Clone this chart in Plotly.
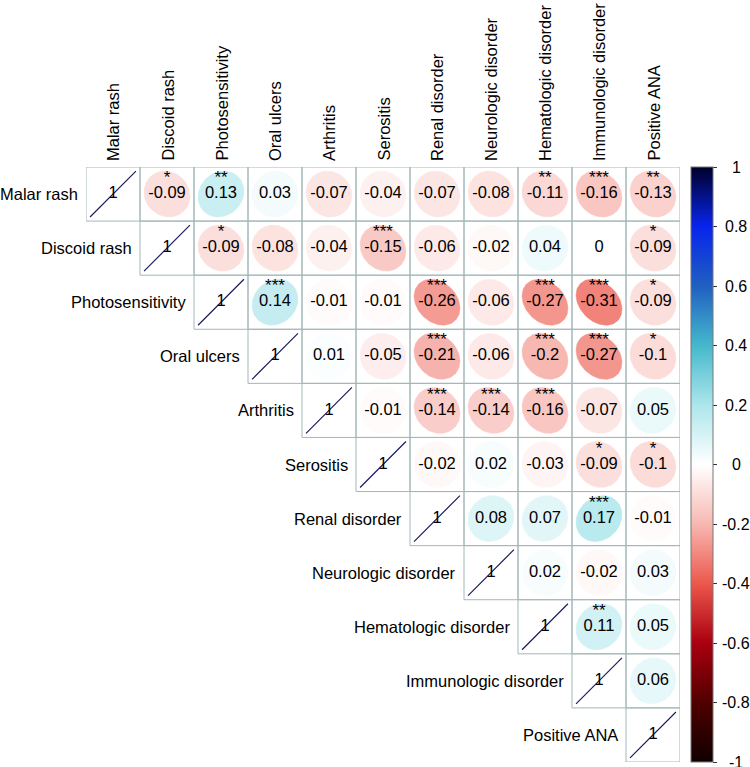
import numpy as np
import plotly.graph_objects as go
from plotly.colors import sample_colorscale

labels = ["Malar rash", "Discoid rash", "Photosensitivity", "Oral ulcers", "Arthritis",
          "Serositis", "Renal disorder", "Neurologic disorder", "Hematologic disorder",
          "Immunologic disorder", "Positive ANA"]

# upper-triangle correlations, row by row (starting at the diagonal)
r_malar = [1, -0.09, 0.13, 0.03, -0.07, -0.04, -0.07, -0.08, -0.11, -0.16, -0.13]
r_discoid = [1, -0.09, -0.08, -0.04, -0.15, -0.06, -0.02, 0.04, 0, -0.09]
r_photo = [1, 0.14, -0.01, -0.01, -0.26, -0.06, -0.27, -0.31, -0.09]
r_oral = [1, 0.01, -0.05, -0.21, -0.06, -0.20, -0.27, -0.10]
r_arth = [1, -0.01, -0.14, -0.14, -0.16, -0.07, 0.05]
r_sero = [1, -0.02, 0.02, -0.03, -0.09, -0.10]
r_renal = [1, 0.08, 0.07, 0.17, -0.01]
r_neuro = [1, 0.02, -0.02, 0.03]
r_hema = [1, 0.11, 0.05]
r_immuno = [1, 0.06]
r_ana = [1]

s_malar = ["", "*", "**", "", "", "", "", "", "**", "***", "**"]
s_discoid = ["", "*", "", "", "***", "", "", "", "", "*"]
s_photo = ["", "***", "", "", "***", "", "***", "***", "*"]
s_oral = ["", "", "", "***", "", "***", "***", "*"]
s_arth = ["", "", "***", "***", "***", "", ""]
s_sero = ["", "", "", "", "*", "*"]
s_renal = ["", "", "", "***", ""]
s_neuro = ["", "", "", ""]
s_hema = ["", "**", ""]
s_immuno = ["", ""]
s_ana = [""]

rows_r = [r_malar, r_discoid, r_photo, r_oral, r_arth, r_sero, r_renal, r_neuro, r_hema, r_immuno, r_ana]
rows_s = [s_malar, s_discoid, s_photo, s_oral, s_arth, s_sero, s_renal, s_neuro, s_hema, s_immuno, s_ana]

cbar_ticks = [-1, -0.8, -0.6, -0.4, -0.2, 0, 0.2, 0.4, 0.6, 0.8, 1]

cscale = [[0.0, 'rgb(16,0,0)'], [0.1, 'rgb(80,0,0)'], [0.2, 'rgb(170,0,16)'],
          [0.3, 'rgb(236,88,76)'], [0.4, 'rgb(247,184,178)'], [0.5, 'rgb(255,255,255)'],
          [0.6, 'rgb(172,230,235)'], [0.7, 'rgb(69,184,204)'], [0.8, 'rgb(32,96,192)'],
          [0.9, 'rgb(8,36,236)'], [1.0, 'rgb(0,0,42)']]

W, H = 750, 767
ML, MR, MT, MB = 86, 70, 167, 5
n = len(labels)
FONT = "Liberation Sans, Arial, sans-serif"
GRID = "#a3b7b7"
FS = 16.5

fig = go.Figure()
shapes = []
annotations = []

k = np.linspace(0, 2 * np.pi, 99)
num_x, num_y, num_t = [], [], []
star_x, star_y, star_t = [], [], []
for i in range(n):
    row = i + 1
    for jj, (r, s) in enumerate(zip(rows_r[i], rows_s[i])):
        col = row + jj
        color = sample_colorscale(cscale, [(r + 1) / 2])[0]
        a = np.arccos(np.clip(r, -1, 1)) / 2
        ex = col + 0.85 * np.cos(k + a) / 2
        ey = row - 0.85 * np.cos(k - a) / 2
        if abs(r) >= 0.999:
            fig.add_trace(go.Scatter(x=ex, y=ey, mode='lines', line=dict(color='#1c1c5c', width=1.2),
                                     hoverinfo='skip', showlegend=False))
        else:
            fig.add_trace(go.Scatter(x=ex, y=ey, mode='lines', fill='toself', fillcolor=color,
                                     line=dict(color=color, width=0.5), hoverinfo='skip', showlegend=False))
        num_x.append(col)
        num_y.append(row)
        num_t.append(f"{r:g}")
        if s:
            star_x.append(col)
            star_y.append(row - 0.28)
            star_t.append(s)
        shapes.append(dict(type='rect', xref='x', yref='y', x0=col - 0.5, x1=col + 0.5,
                           y0=row - 0.5, y1=row + 0.5, line=dict(color=GRID, width=1),
                           layer='above'))

fig.add_trace(go.Scatter(x=num_x, y=num_y, text=num_t, mode='text', textposition='middle center',
                         textfont=dict(family=FONT, size=FS, color='black'),
                         hoverinfo='skip', showlegend=False))
fig.add_trace(go.Scatter(x=star_x, y=star_y, text=star_t, mode='text', textposition='middle center',
                         textfont=dict(family=FONT, size=17, color='black'),
                         hoverinfo='skip', showlegend=False))

# colour bar
fig.add_trace(go.Scatter(x=[1], y=[1], mode='markers',
                         marker=dict(size=0.1, color=[0], cmin=-1, cmax=1, colorscale=cscale, opacity=0,
                                     showscale=True,
                                     colorbar=dict(x=(691 - ML) / (W - ML - MR), xanchor='left', xpad=0,
                                                   y=0.5, yanchor='middle', ypad=0, len=1, lenmode='fraction',
                                                   thickness=22, thicknessmode='pixels',
                                                   outlinewidth=1, outlinecolor='#777777',
                                                   tickmode='array', tickvals=cbar_ticks, ticks='outside',
                                                   ticklen=4, tickcolor='#333333', showticklabels=False)),
                         hoverinfo='skip', showlegend=False))

for v in cbar_ticks:
    annotations.append(dict(xref='paper', yref='paper', x=(736 - ML) / (W - ML - MR), y=(v + 1) / 2,
                            text=f"{v:g}", showarrow=False, xanchor='center', yanchor='middle',
                            font=dict(family=FONT, size=16, color='black')))

for i, lab in enumerate(labels):
    row = i + 1
    annotations.append(dict(xref='x', yref='y', x=row - 0.5, y=row, text=lab, showarrow=False,
                            xanchor='right', yanchor='middle', xshift=-6,
                            font=dict(family=FONT, size=FS, color='black')))
    annotations.append(dict(xref='x', yref='y', x=row, y=0.5, text=lab, showarrow=False,
                            textangle=-90, xanchor='center', yanchor='bottom', yshift=4,
                            font=dict(family=FONT, size=FS, color='black')))

fig.update_layout(width=W, height=H, margin=dict(l=ML, r=MR, t=MT, b=MB, autoexpand=False),
                  plot_bgcolor='white', paper_bgcolor='white',
                  xaxis=dict(range=[0.5, n + 0.5], visible=False, fixedrange=True),
                  yaxis=dict(range=[n + 0.5, 0.5], visible=False, fixedrange=True),
                  shapes=shapes, annotations=annotations, showlegend=False)

fig.write_html("out.html", config={'displayModeBar': False},
               post_script="document.body.style.margin='0';document.body.style.padding='0';"
                           "document.documentElement.style.overflow='hidden';")
